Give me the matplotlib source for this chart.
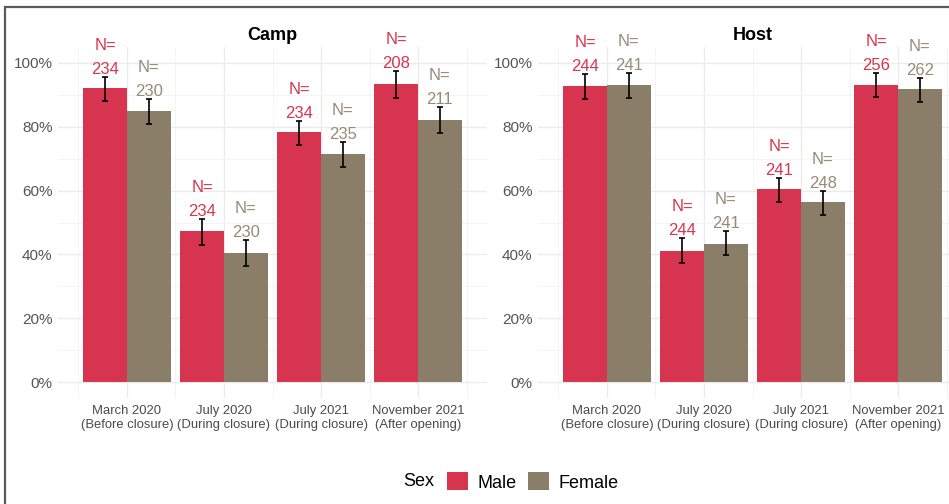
import matplotlib
matplotlib.use('Agg')
import matplotlib.pyplot as plt
from matplotlib.patches import Patch, Rectangle
import numpy as np

plt.rcParams['font.family'] = ['Liberation Sans', 'DejaVu Sans']

periods = ['March 2020\n(Before closure)', 'July 2020\n(During closure)',
           'July 2021\n(During closure)', 'November 2021\n(After opening)']
panels = ['Camp', 'Host']

# share (0-1), error bar low/high and sample size per sex
camp_male = [0.922, 0.472, 0.784, 0.934]
camp_male_lo = [0.881, 0.430, 0.744, 0.890]
camp_male_hi = [0.956, 0.510, 0.819, 0.975]
camp_male_n = [234, 234, 234, 208]
camp_female = [0.850, 0.403, 0.716, 0.822]
camp_female_lo = [0.809, 0.363, 0.675, 0.781]
camp_female_hi = [0.888, 0.444, 0.753, 0.862]
camp_female_n = [230, 230, 235, 211]

host_male = [0.928, 0.412, 0.606, 0.931]
host_male_lo = [0.888, 0.372, 0.563, 0.894]
host_male_hi = [0.966, 0.450, 0.641, 0.969]
host_male_n = [244, 244, 241, 256]
host_female = [0.931, 0.434, 0.563, 0.919]
host_female_lo = [0.890, 0.397, 0.525, 0.878]
host_female_hi = [0.969, 0.472, 0.600, 0.953]
host_female_n = [241, 241, 248, 262]

MALE = '#D7344F'
FEMALE = '#8B7E68'
MALE_TXT = '#D8354F'
FEMALE_TXT = '#978B77'

data = {
    'Camp': [(camp_male, camp_male_lo, camp_male_hi, camp_male_n),
             (camp_female, camp_female_lo, camp_female_hi, camp_female_n)],
    'Host': [(host_male, host_male_lo, host_male_hi, host_male_n),
             (host_female, host_female_lo, host_female_hi, host_female_n)],
}

W, H = 949, 504
fig = plt.figure(figsize=(W / 100, H / 100), dpi=100)

# outer frame (bleeds off right/bottom like the screenshot)
fig.patches.append(Rectangle((5 / W, -0.1), 1.2, 1 - 7 / H + 0.1, transform=fig.transFigure,
                             fill=False, edgecolor='#5a5a5a', lw=1.6))

lefts = [58, 538]
w = 0.45
x = np.arange(1, len(periods) + 1)

for left, name in zip(lefts, panels):
    ax = fig.add_axes([left / W, (H - 398) / H, 429 / W, 351 / H])
    for (vals, lo, hi, n), off, col, tcol in zip(data[name], (-w / 2, w / 2),
                                                 (MALE, FEMALE), (MALE_TXT, FEMALE_TXT)):
        vals = np.array(vals)
        lo = np.array(lo)
        hi = np.array(hi)
        ax.bar(x + off, vals, w, color=col, zorder=2)
        ax.errorbar(x + off, vals, yerr=[vals - lo, hi - vals], fmt='none',
                    ecolor='black', elinewidth=1.2, capsize=2, capthick=1.2, zorder=3)
        for xi, h, ni in zip(x + off, hi, n):
            ax.text(xi, h, f'N=\n{ni}', ha='center', va='bottom', color=tcol,
                    fontsize=12, linespacing=1.75, zorder=4)

    ax.set_xlim(0.29, 4.71)
    ax.set_ylim(-0.05, 1.05)
    ax.set_yticks(np.arange(0, 1.01, 0.2))
    ax.set_yticklabels([f'{int(round(t * 100))}%' for t in np.arange(0, 1.01, 0.2)])
    ax.set_yticks(np.arange(0.1, 1.0, 0.2), minor=True)
    ax.set_xticks(x)
    ax.set_xticklabels(periods)
    ax.set_xticks(np.arange(0.5, 4.6, 1), minor=True)
    ax.grid(which='major', color='#EBEBEB', lw=1.0, zorder=0)
    ax.grid(which='minor', color='#F3F3F3', lw=0.6, zorder=0)
    ax.set_axisbelow(True)
    for s in ax.spines.values():
        s.set_visible(False)
    ax.tick_params(which='both', length=0)
    ax.tick_params(axis='y', labelsize=11, colors='#555555', pad=4)
    ax.tick_params(axis='x', labelsize=9.4, colors='#4a4a4a', pad=5)
    for lab in ax.get_xticklabels():
        lab.set_linespacing(1.25)
    ax.set_title(name, fontsize=13, fontweight='bold', pad=5)

fig.text(403 / W, 1 - 482 / H, 'Sex', fontsize=13, ha='left', va='center')
handles = [Patch(facecolor=MALE, label='Male'), Patch(facecolor=FEMALE, label='Female')]
fig.legend(handles=handles, loc='center', bbox_to_anchor=(533 / W, 1 - 482 / H), ncol=2,
           frameon=False, fontsize=13, handlelength=1.15, handleheight=1.15,
           handletextpad=0.55, columnspacing=0.6, borderpad=0, borderaxespad=0)

fig.savefig('out.png', dpi=100)
